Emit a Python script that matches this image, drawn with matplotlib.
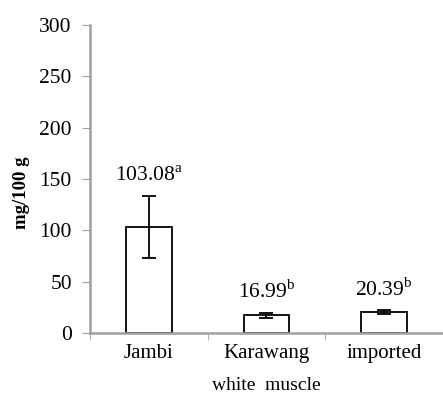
import numpy as np
import matplotlib.pyplot as plt

plt.rcParams['font.family'] = ['Liberation Serif', 'DejaVu Serif']
plt.rcParams['mathtext.fontset'] = 'custom'
plt.rcParams['mathtext.rm'] = 'Liberation Serif'

categories = ['Jambi', 'Karawang', 'imported']
values = [103.08, 16.99, 20.39]
errors = [30.5, 2.5, 1.5]
letters = ['a', 'b', 'b']
ylabel = 'mg/100 g'
xlabel = 'white  muscle'

fig = plt.figure(figsize=(4.43, 4.11), dpi=100)
ax = fig.add_axes([0.203, 0.19, 0.797, 0.749])

x = np.arange(len(categories))
ax.bar(x, values, width=0.39, color='white', edgecolor='black', linewidth=1.3,
       yerr=errors, error_kw=dict(ecolor='black', elinewidth=1.3, capsize=5, capthick=1.3))

# value labels with superscript letters
for xi, v, e, l in zip(x, values, errors, letters):
    ax.annotate('%.2f$^{\\mathrm{%s}}$' % (v, l), (xi, v + e), xytext=(0, 7),
                textcoords='offset points', ha='center', va='bottom', fontsize=15.5)

ax.set_xlim(-0.5, 2.5)
ax.set_ylim(0, 300)
ax.set_yticks(range(0, 301, 50))
ax.set_xticks(x)
ax.set_xticklabels(categories, fontsize=15)
ax.set_xticks([-0.5, 0.5, 1.5, 2.5], minor=True)
ax.tick_params(axis='x', which='major', length=0, pad=8)
ax.tick_params(axis='x', which='minor', length=5, color='#a0a0a0', direction='out')
ax.tick_params(axis='y', length=6, color='#a0a0a0', labelsize=15.5, pad=7)

for s in ['top', 'right']:
    ax.spines[s].set_visible(False)
for s in ['left', 'bottom']:
    ax.spines[s].set_color('#a0a0a0')
    ax.spines[s].set_linewidth(1.8)

ax.set_ylabel(ylabel, fontsize=13.5, fontweight='bold')
ax.yaxis.set_label_coords(-0.17, 0.455)
ax.set_xlabel(xlabel, fontsize=14, labelpad=10)

fig.savefig('out.png', dpi=100)
